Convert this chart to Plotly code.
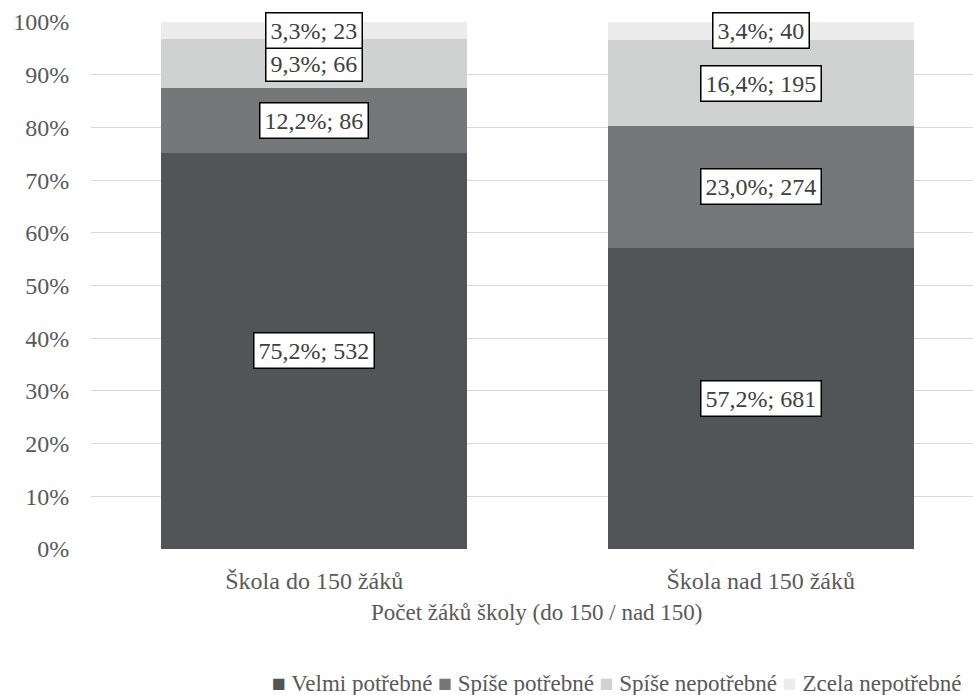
import plotly.graph_objects as go

# Responses by school size (share in %, number of respondents)
categories = ["Škola do 150 žáků", "Škola nad 150 žáků"]
series_names = ["Velmi potřebné", "Spíše potřebné", "Spíše nepotřebné", "Zcela nepotřebné"]
pct_small = [75.2, 12.2, 9.3, 3.3]
pct_large = [57.2, 23.0, 16.4, 3.4]
cnt_small = [532, 86, 66, 23]
cnt_large = [681, 274, 195, 40]
colors = ["#525556", "#75787a", "#d0d1d1", "#ececec"]
y_ticks = [0, 10, 20, 30, 40, 50, 60, 70, 80, 90, 100]
x_title = "Počet žáků školy (do 150 / nad 150)"

FONT = '"Liberation Serif", "Times New Roman", Times, serif'
TEXT = "#404040"
TICK = "#595959"

fig = go.Figure()
for i, name in enumerate(series_names):
    fig.add_trace(go.Bar(
        x=[0, 1],
        y=[pct_small[i], pct_large[i]],
        name=name,
        marker=dict(color=colors[i], line=dict(width=0)),
        width=0.685,
        hoverinfo="skip",
    ))

# boxed value labels centred in each segment
annotations = []
for xi, (pcts, cnts) in enumerate([(pct_small, cnt_small), (pct_large, cnt_large)]):
    base = 0.0
    for p, c in zip(pcts, cnts):
        mid = base + p / 2
        base += p
        label = f"{p:.1f}".replace(".", ",") + f"%; {c}"
        annotations.append(dict(
            x=xi, y=mid, xref="x", yref="y", text=label, showarrow=False,
            font=dict(family=FONT, size=24, color=TEXT),
            bgcolor="white", bordercolor="black", borderwidth=1.5, borderpad=4,
        ))

# axis title, centred between the two categories
annotations.append(dict(
    x=0.5, y=-0.1214, xref="x", yref="paper", text=x_title, showarrow=False,
    xanchor="center", yanchor="middle",
    font=dict(family=FONT, size=23, color=TICK),
))

# legend row: coloured square followed by series name
legend_parts = [
    f'<span style="color:{c};font-size:23px">■</span> {n}'
    for n, c in zip(series_names, colors)
]
annotations.append(dict(
    x=(616 - 91) / 882, y=-0.2543, xref="paper", yref="paper",
    text=" ".join(legend_parts), showarrow=False,
    xanchor="center", yanchor="middle",
    font=dict(family=FONT, size=23, color=TICK),
))

fig.update_layout(
    barmode="stack",
    width=973, height=695,
    margin=dict(l=91, r=0, t=22, b=146, autoexpand=False),
    paper_bgcolor="white", plot_bgcolor="white",
    font=dict(family=FONT, size=24, color=TICK),
    bargap=0,
    showlegend=False,
    annotations=annotations,
)
fig.update_xaxes(
    range=[-0.5, 1.4755],
    tickmode="array", tickvals=[0, 1], ticktext=categories,
    ticks="outside", ticklen=10, tickcolor="rgba(0,0,0,0)",
    showgrid=False, zeroline=False, showline=False,
    tickfont=dict(family=FONT, size=24, color=TICK),
)
fig.update_yaxes(
    range=[0, 100],
    tickmode="array", tickvals=y_ticks, ticktext=[f"{v}%" for v in y_ticks],
    ticks="outside", ticklen=16, tickcolor="rgba(0,0,0,0)",
    showgrid=True, gridcolor="#d9d9d9", gridwidth=1.3,
    zeroline=False, showline=False,
    tickfont=dict(family=FONT, size=24, color=TICK),
)

fig.write_html("out.html")
